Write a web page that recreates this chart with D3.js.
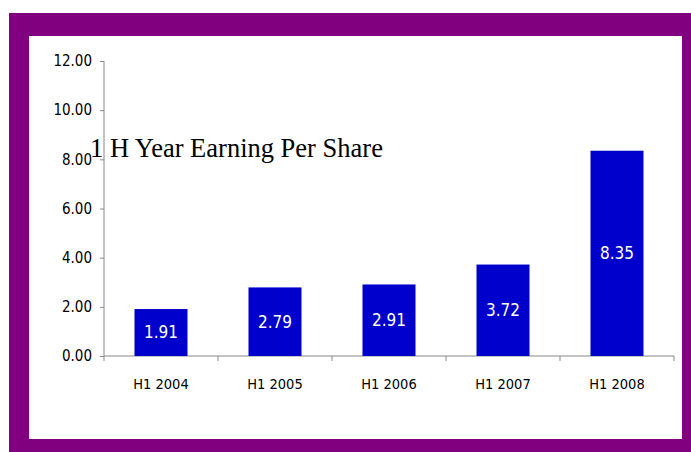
<!DOCTYPE html>
<html>
<head>
<meta charset="utf-8">
<script src="https://d3js.org/d3.v7.min.js"></script>
<style>
  html, body { margin: 0; padding: 0; background: #fff; }
  svg { display: block; }
</style>
</head>
<body>
<svg id="chart" width="691" height="452"></svg>
<script>
// data
var categories = ['H1 2004', 'H1 2005', 'H1 2006', 'H1 2007', 'H1 2008'];
var values = [1.91, 2.79, 2.91, 3.72, 8.35];
var yTicks = [0, 2, 4, 6, 8, 10, 12];
var title = '1 H Year Earning Per Share';

var svg = d3.select('#chart');

// purple frame
svg.append('rect')
  .attr('x', 9).attr('y', 13)
  .attr('width', 682).attr('height', 439)
  .attr('fill', '#800080');
svg.append('rect')
  .attr('x', 29).attr('y', 36)
  .attr('width', 653).attr('height', 403)
  .attr('fill', '#fff');

var plotLeft = 104, plotRight = 674, plotTop = 61, plotBottom = 356;

var x = d3.scaleBand()
  .domain(categories)
  .range([plotLeft, plotRight])
  .paddingInner(0.535)
  .paddingOuter(0.2675);

var y = d3.scaleLinear()
  .domain([0, 12])
  .range([plotBottom, plotTop]);

var tickFont = '"DejaVu Sans Condensed", "DejaVu Sans", sans-serif';

// y axis
var yAxis = svg.append('g')
  .attr('transform', 'translate(' + plotLeft + ',0)')
  .call(d3.axisLeft(y).tickValues(yTicks).tickSize(4).tickPadding(8)
    .tickFormat(d3.format('.2f')));
yAxis.select('.domain').attr('stroke', '#888').attr('d', 'M0,' + plotTop + 'V' + plotBottom);
yAxis.selectAll('.tick line').attr('stroke', '#888');
yAxis.selectAll('.tick text')
  .attr('fill', '#000')
  .style('font-family', tickFont)
  .style('font-size', '15px');

// x axis, ticks at band edges
var xAxis = svg.append('g')
  .attr('transform', 'translate(0,' + plotBottom + ')');
xAxis.append('line')
  .attr('x1', plotLeft).attr('x2', plotRight)
  .attr('stroke', '#888');
var edges = categories.map(function(c) { return x(c) - x.step() * x.paddingInner() / 2; });
edges.push(plotRight);
xAxis.selectAll('.xtick')
  .data(edges)
  .enter().append('line')
  .attr('class', 'xtick')
  .attr('x1', function(d) { return d; })
  .attr('x2', function(d) { return d; })
  .attr('y1', 0).attr('y2', 5)
  .attr('stroke', '#888');
xAxis.selectAll('.xlabel')
  .data(categories)
  .enter().append('text')
  .attr('class', 'xlabel')
  .attr('x', function(d) { return x(d) + x.bandwidth() / 2; })
  .attr('y', 33)
  .attr('text-anchor', 'middle')
  .style('font-family', tickFont)
  .style('font-size', '14.5px')
  .text(function(d) { return d; });

// bars
svg.append('g').selectAll('rect')
  .data(values)
  .enter().append('rect')
  .attr('x', function(d, i) { return x(categories[i]); })
  .attr('y', function(d) { return y(d); })
  .attr('width', x.bandwidth())
  .attr('height', function(d) { return y(0) - y(d); })
  .attr('fill', '#0000CC');

// value labels centred in bars
svg.append('g').selectAll('text')
  .data(values)
  .enter().append('text')
  .attr('x', function(d, i) { return x(categories[i]) + x.bandwidth() / 2; })
  .attr('y', function(d) { return (y(d) + y(0)) / 2; })
  .attr('dy', '0.35em')
  .attr('text-anchor', 'middle')
  .attr('fill', '#fff')
  .style('font-family', tickFont)
  .style('font-size', '17px')
  .text(function(d) { return d3.format('.2f')(d); });

// title
svg.append('text')
  .attr('x', 90)
  .attr('y', 157)
  .style('font-family', '"Liberation Serif", "Times New Roman", serif')
  .style('font-size', '26.5px')
  .attr('fill', '#000')
  .text(title);
</script>
</body>
</html>
